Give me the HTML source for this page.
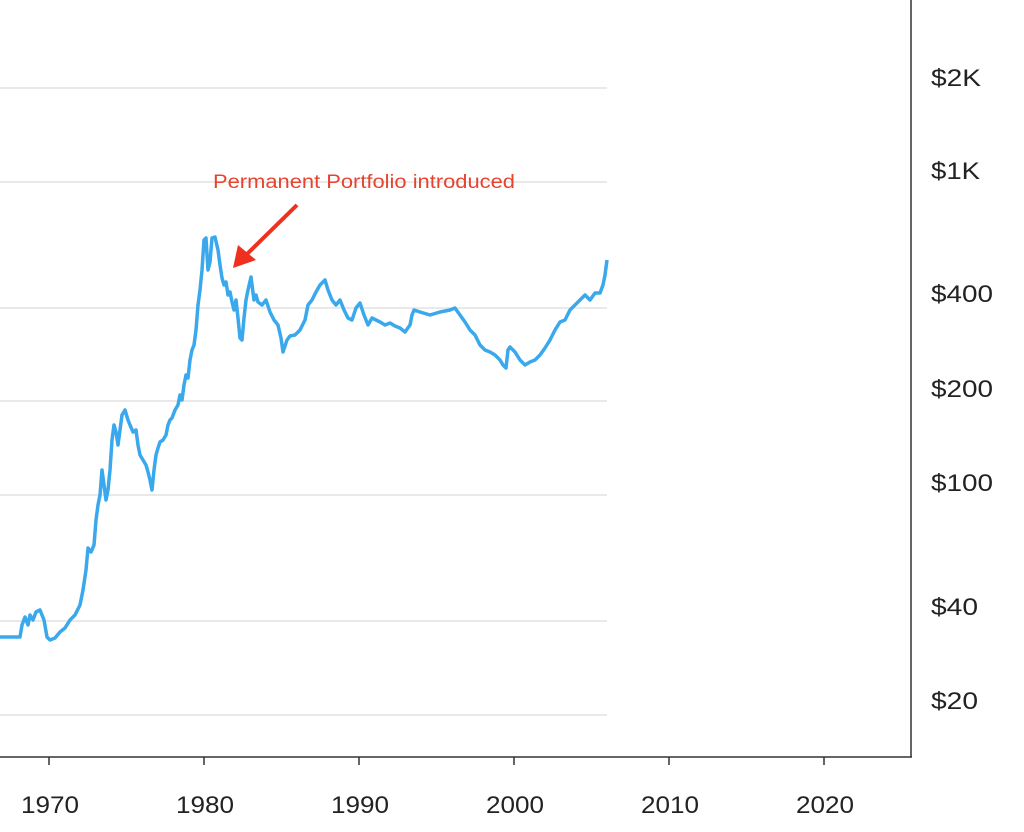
<!DOCTYPE html>
<html><head><style>
html,body{margin:0;padding:0;background:#fff;}
svg{display:block;}
text{font-family:"Liberation Sans",sans-serif;}
</style></head><body>
<svg width="1024" height="832" viewBox="0 0 1024 832" xmlns="http://www.w3.org/2000/svg">
<g stroke="#e2e2e2" stroke-width="1.5">
<line x1="0" y1="88" x2="607" y2="88"/>
<line x1="0" y1="182" x2="607" y2="182"/>
<line x1="0" y1="308" x2="607" y2="308"/>
<line x1="0" y1="401" x2="607" y2="401"/>
<line x1="0" y1="495" x2="607" y2="495"/>
<line x1="0" y1="621" x2="607" y2="621"/>
<line x1="0" y1="715" x2="607" y2="715"/>
</g>
<line x1="0" y1="757" x2="912" y2="757" stroke="#333" stroke-width="1.5"/>
<line x1="911" y1="0" x2="911" y2="757" stroke="#333" stroke-width="1.5"/>
<g stroke="#333" stroke-width="1.5">
<line x1="49" y1="757" x2="49" y2="765"/><line x1="204" y1="757" x2="204" y2="765"/>
<line x1="359" y1="757" x2="359" y2="765"/><line x1="514" y1="757" x2="514" y2="765"/>
<line x1="669" y1="757" x2="669" y2="765"/><line x1="824" y1="757" x2="824" y2="765"/>
</g>
<g font-size="24" fill="#222">
<text x="21" y="813" textLength="58" lengthAdjust="spacingAndGlyphs">1970</text>
<text x="176" y="813" textLength="58" lengthAdjust="spacingAndGlyphs">1980</text>
<text x="331" y="813" textLength="58" lengthAdjust="spacingAndGlyphs">1990</text>
<text x="486" y="813" textLength="58" lengthAdjust="spacingAndGlyphs">2000</text>
<text x="641" y="813" textLength="58" lengthAdjust="spacingAndGlyphs">2010</text>
<text x="796" y="813" textLength="58" lengthAdjust="spacingAndGlyphs">2020</text>
</g>
<g font-size="24" fill="#222">
<text x="931" y="86" textLength="50" lengthAdjust="spacingAndGlyphs">$2K</text>
<text x="931" y="179" textLength="49" lengthAdjust="spacingAndGlyphs">$1K</text>
<text x="931" y="302" textLength="62" lengthAdjust="spacingAndGlyphs">$400</text>
<text x="931" y="397" textLength="62" lengthAdjust="spacingAndGlyphs">$200</text>
<text x="931" y="491" textLength="62" lengthAdjust="spacingAndGlyphs">$100</text>
<text x="931" y="615" textLength="47" lengthAdjust="spacingAndGlyphs">$40</text>
<text x="931" y="709" textLength="47" lengthAdjust="spacingAndGlyphs">$20</text>
</g>
<polyline fill="none" stroke="#3aa8ec" stroke-width="3.5" stroke-linejoin="round" points="0,637 20,637 22,625 25,617 28,625 30,615 33,620 36,612 40,610 44,620 47,637 50,640 55,638 60,632 65,628 70,620 75,615 80,605 83,590 86,570 88,548 91,552 94,545 96,520 98,505 100,495 102,470 104,485 106,500 108,490 110,470 112,440 114,425 116,432 118,445 120,430 122,415 125,410 128,420 130,425 133,432 136,430 138,445 140,455 143,460 146,465 148,472 150,480 152,490 154,470 156,455 158,448 160,442 163,440 166,435 168,425 170,420 172,418 175,410 178,405 180,395 182,400 184,385 186,375 188,378 190,360 192,350 194,345 196,330 198,305 200,290 202,270 204,240 206,238 208,270 210,262 212,238 215,237 218,250 220,265 222,278 224,285 226,282 228,295 230,292 232,302 234,310 236,300 238,318 240,338 242,340 244,318 246,300 248,290 251,277 252,285 254,300 256,295 258,302 262,305 266,300 270,312 274,320 278,325 281,338 283,352 287,340 290,336 295,335 300,330 305,320 308,305 312,300 316,292 320,285 325,280 328,290 332,300 336,305 340,300 344,310 348,318 352,320 356,308 360,303 364,315 368,325 372,318 376,320 380,322 385,325 390,323 395,326 400,328 405,332 410,325 412,315 414,310 420,312 430,315 440,312 450,310 455,308 460,315 465,322 470,330 475,335 480,345 485,350 490,352 495,355 500,360 503,365 506,368 508,350 510,347 515,352 520,360 525,365 530,362 535,360 540,355 545,348 550,340 555,330 560,322 565,320 570,310 575,305 580,300 585,295 590,300 595,293 600,293 603,285 605,275 607,260"/>
<text x="213" y="188" font-size="19" fill="#e8432e" textLength="302" lengthAdjust="spacingAndGlyphs">Permanent Portfolio introduced</text>
<line x1="297" y1="205" x2="245" y2="256" stroke="#f0301e" stroke-width="4"/>
<polygon points="233,268 238,245 256,260" fill="#f0301e"/>
</svg>
</body></html>
